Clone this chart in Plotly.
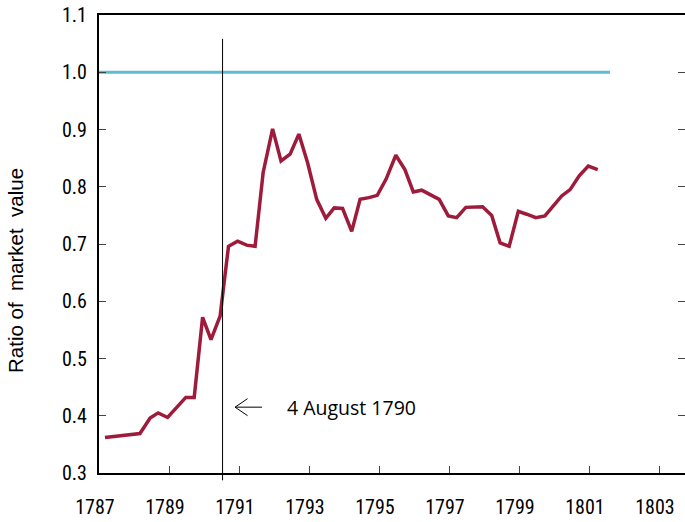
import plotly.graph_objects as go

# ---- data ----
YEARS = [1787.17, 1787.74, 1788.17, 1788.46, 1788.69, 1788.96, 1789.22, 1789.48, 1789.72, 1789.96,
         1790.20, 1790.46, 1790.70, 1790.96, 1791.22, 1791.46, 1791.69, 1791.96, 1792.20, 1792.46,
         1792.71, 1792.96, 1793.22, 1793.48, 1793.72, 1793.96, 1794.22, 1794.46, 1794.71, 1794.95,
         1795.20, 1795.48, 1795.74, 1795.98, 1796.22, 1796.48, 1796.72, 1796.98, 1797.22, 1797.48,
         1797.71, 1797.96, 1798.22, 1798.46, 1798.72, 1798.98, 1799.22, 1799.48, 1799.74, 1799.98,
         1800.22, 1800.46, 1800.72, 1800.98, 1801.25]
RATIO = [0.362, 0.366, 0.369, 0.396, 0.405, 0.397, 0.415, 0.432, 0.432, 0.572,
         0.533, 0.574, 0.696, 0.705, 0.698, 0.696, 0.825, 0.901, 0.845, 0.857,
         0.892, 0.842, 0.778, 0.745, 0.763, 0.762, 0.722, 0.778, 0.781, 0.785,
         0.813, 0.855, 0.830, 0.791, 0.794, 0.785, 0.778, 0.749, 0.746, 0.764,
         0.764, 0.765, 0.750, 0.702, 0.696, 0.757, 0.752, 0.746, 0.749, 0.766,
         0.784, 0.795, 0.819, 0.836, 0.830]
PAR_YEARS = [1787.0, 1801.6]
PAR_RATIO = [1.0, 1.0]
X_TICKS = [1787, 1789, 1791, 1793, 1795, 1797, 1799, 1801, 1803]
Y_TICKS = [0.3, 0.4, 0.5, 0.6, 0.7, 0.8, 0.9, 1.0, 1.1]
X_RANGE = [1787, 1803.743]
Y_RANGE = [0.3, 1.1]
EVENT_DATE = 1790.53
EVENT_LABEL = "4 August 1790"
ARROW_Y = 0.415
Y_TITLE = "Ratio of\u00a0 market\u00a0 value"

TICK_FONT = dict(family="Liberation Sans Narrow, Arial Narrow, Roboto Condensed, sans-serif",
                 size=20, color="black")
TITLE_FONT = dict(family="Liberation Sans, Arial, sans-serif", size=20.5, color="black")
NOTE_FONT = dict(family="Open Sans", size=19.5, color="black")

fig = go.Figure()
fig.add_trace(go.Scatter(x=PAR_YEARS, y=PAR_RATIO, mode="lines",
                         line=dict(color="#5bbdd2", width=3), hoverinfo="skip"))
fig.add_trace(go.Scatter(x=YEARS, y=RATIO, mode="lines",
                         line=dict(color="#9e1b3b", width=3.5)))
# invisible trace to carry the right-hand tick axis
fig.add_trace(go.Scatter(x=[None], y=[None], yaxis="y2", mode="lines", hoverinfo="skip"))

fig.update_layout(
    width=685, height=522, autosize=False,
    margin=dict(l=99, r=0, t=15, b=49),
    plot_bgcolor="white", paper_bgcolor="white",
    showlegend=False,
    font=TICK_FONT,
    xaxis=dict(range=X_RANGE, tickvals=X_TICKS, ticks="inside", ticklen=7, tickwidth=1,
               tickcolor="#444", showline=True, linecolor="black", linewidth=2,
               mirror=True, showgrid=False, zeroline=False, ticklabelstandoff=15,
               ticklabelshift=-4, tickfont=TICK_FONT, automargin=False,
               ticklabeloverflow="allow"),
    yaxis=dict(range=Y_RANGE, tickvals=Y_TICKS, tickformat=".1f", ticks="inside", ticklen=7,
               tickwidth=1, tickcolor="#444", showline=True, linecolor="black", linewidth=2,
               showgrid=False, zeroline=False, ticklabelstandoff=6,
               tickfont=TICK_FONT, automargin=False, ticklabeloverflow="allow"),
    yaxis2=dict(range=Y_RANGE, tickvals=Y_TICKS, overlaying="y", side="right", anchor="x",
                ticks="inside", ticklen=7, tickwidth=1, tickcolor="#444",
                showticklabels=False, showline=False, showgrid=False, zeroline=False),
)

# y-axis title (placed as a rotated annotation, a little below the axis centre)
fig.add_annotation(x=0, y=0.441, xref="paper", yref="paper", text=Y_TITLE, textangle=-90,
                   showarrow=False, xanchor="center", yanchor="middle", xshift=-84,
                   font=TITLE_FONT)

# vertical event line (extends slightly beyond the plot area)
fig.add_shape(type="line", xref="x", yref="paper", x0=EVENT_DATE, x1=EVENT_DATE,
              y0=-0.016, y1=0.948, line=dict(color="black", width=1))
# open arrow pointing at the event line
fig.add_shape(type="path", xref="x", yref="y", xsizemode="pixel", ysizemode="pixel",
              xanchor=EVENT_DATE, yanchor=ARROW_Y,
              path="M 25,-8.5 L 12.5,0 L 25,8.5 M 12.5,0 L 39.5,0",
              line=dict(color="black", width=1))
fig.add_annotation(x=EVENT_DATE, y=ARROW_Y, xref="x", yref="y", text=EVENT_LABEL,
                   showarrow=False, xanchor="left", yanchor="middle", xshift=62,
                   font=NOTE_FONT)

# remove the default 8px page margin so the figure fills the window exactly
fig.write_html("out.html", config={"displayModeBar": False},
               post_script="document.body.style.margin='0';")
